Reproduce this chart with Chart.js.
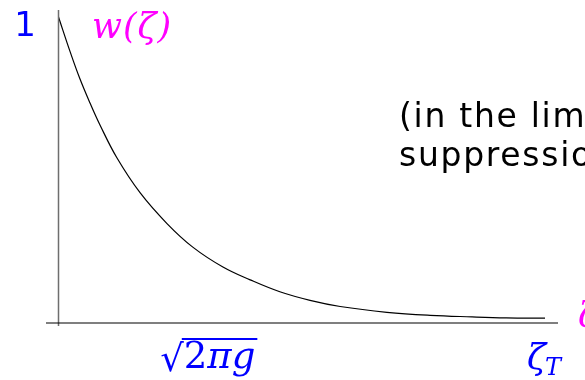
<!DOCTYPE html>
<html>
<head>
<meta charset="utf-8">
<title>w(zeta)</title>
<style>
  html, body { margin: 0; padding: 0; background: #fff; }
  canvas { display: block; }
</style>
</head>
<body>
<canvas id="wCanvas" width="585" height="380"></canvas>
<script src="https://cdn.jsdelivr.net/npm/chart.js@4/dist/chart.umd.min.js"></script>
<script>
// zeta measured in units of zeta_T
var zeta = [0, 0.024, 0.044, 0.065, 0.085, 0.120, 0.168, 0.223, 0.276, 0.338, 0.394, 0.455, 0.517, 0.579, 0.675, 0.764, 0.850, 0.920, 1.0];
var wValues = [1.0, 0.886, 0.798, 0.718, 0.648, 0.540, 0.425, 0.325, 0.248, 0.183, 0.141, 0.102, 0.074, 0.054, 0.035, 0.025, 0.020, 0.017, 0.016];

var xTicks = [0.318, 1.0];       // sqrt(2 pi g), zeta_T
var yTicks = [1];
var yTickLabels = ['1'];
var noteLines = ['(in the limit of strong', 'suppression)'];

var BLUE = '#0000ff';
var MAGENTA = '#ff00ff';

var points = zeta.map(function(z, i) { return { x: z, y: wValues[i] }; });

// axes, tick labels and annotation drawn on top of the plot
var axesPlugin = {
    id: 'axesPlugin',
    afterDraw: function(chart) {
        var ctx = chart.ctx;
        var xs = chart.scales.x, ys = chart.scales.y;
        var area = chart.chartArea;
        var x0 = xs.getPixelForValue(0);
        var y0 = ys.getPixelForValue(0);

        ctx.save();
        // vertical axis
        ctx.strokeStyle = '#6e6e6e';
        ctx.lineWidth = 1.5;
        ctx.beginPath();
        ctx.moveTo(x0, area.top);
        ctx.lineTo(x0, area.bottom);
        ctx.stroke();
        // horizontal axis
        ctx.strokeStyle = '#000';
        ctx.lineWidth = 1.2;
        ctx.beginPath();
        ctx.moveTo(area.left, y0);
        ctx.lineTo(area.right, y0);
        ctx.stroke();

        // y tick label "1"
        ctx.fillStyle = BLUE;
        ctx.font = '34px "DejaVu Sans"';
        ctx.textAlign = 'center';
        ctx.textBaseline = 'alphabetic';
        yTicks.forEach(function(v, i) {
            ctx.fillText(yTickLabels[i], 25, ys.getPixelForValue(v) + 19);
        });

        // axis title w(zeta)
        ctx.fillStyle = MAGENTA;
        ctx.font = 'italic 35px "DejaVu Serif"';
        ctx.letterSpacing = '1px';
        ctx.textAlign = 'left';
        ctx.fillText('w(\u03b6)', 92, 38);
        // x axis name, cut by the right edge
        ctx.fillText('\u03b6', 578, 327);
        ctx.letterSpacing = '0px';

        // x tick: sqrt(2 pi g)
        var sx = xs.getPixelForValue(xTicks[0]);
        ctx.fillStyle = BLUE;
        ctx.strokeStyle = BLUE;
        ctx.font = '37px "DejaVu Serif"';
        var rootW = ctx.measureText('\u221a').width;
        var left = sx - 53;
        ctx.fillText('\u221a', left, 371);
        ctx.fillText('2', left + rootW, 368);
        var twoW = ctx.measureText('2').width;
        ctx.font = 'italic 37px "DejaVu Serif"';
        ctx.fillText('\u03c0g', left + rootW + twoW, 368);
        var radW = ctx.measureText('\u03c0g').width;
        ctx.lineWidth = 2;
        ctx.beginPath();
        ctx.moveTo(left + rootW - 2, 339);
        ctx.lineTo(left + rootW + twoW + radW + 2, 339);
        ctx.stroke();

        // x tick: zeta_T
        var tx = xs.getPixelForValue(xTicks[1]);
        ctx.font = 'italic 35px "DejaVu Serif"';
        ctx.fillText('\u03b6', tx - 18, 369);
        var zW = ctx.measureText('\u03b6').width;
        ctx.font = 'italic 24px "DejaVu Serif"';
        ctx.fillText('T', tx - 19 + zW, 375);

        // note at the right
        ctx.fillStyle = '#000';
        ctx.font = '33px "DejaVu Sans"';
        ctx.letterSpacing = '1.7px';
        ctx.fillText(noteLines[0], 399, 127);
        ctx.fillText(noteLines[1], 399, 166);
        ctx.restore();
    }
};

new Chart(document.getElementById('wCanvas').getContext('2d'), {
    type: 'line',
    data: {
        datasets: [{
            data: points,
            borderColor: '#000',
            borderWidth: 1.2,
            pointRadius: 0,
            fill: false,
            tension: 0.4
        }]
    },
    options: {
        responsive: false,
        animation: false,
        layout: { padding: { left: 46, right: 27, top: 10, bottom: 54 } },
        plugins: { legend: { display: false }, tooltip: { enabled: false } },
        scales: {
            x: { type: 'linear', display: false, min: -0.0257, max: 1.0267 },
            y: { type: 'linear', display: false, min: -0.0098, max: 1.0229 }
        }
    },
    plugins: [axesPlugin]
});
</script>
</body>
</html>
